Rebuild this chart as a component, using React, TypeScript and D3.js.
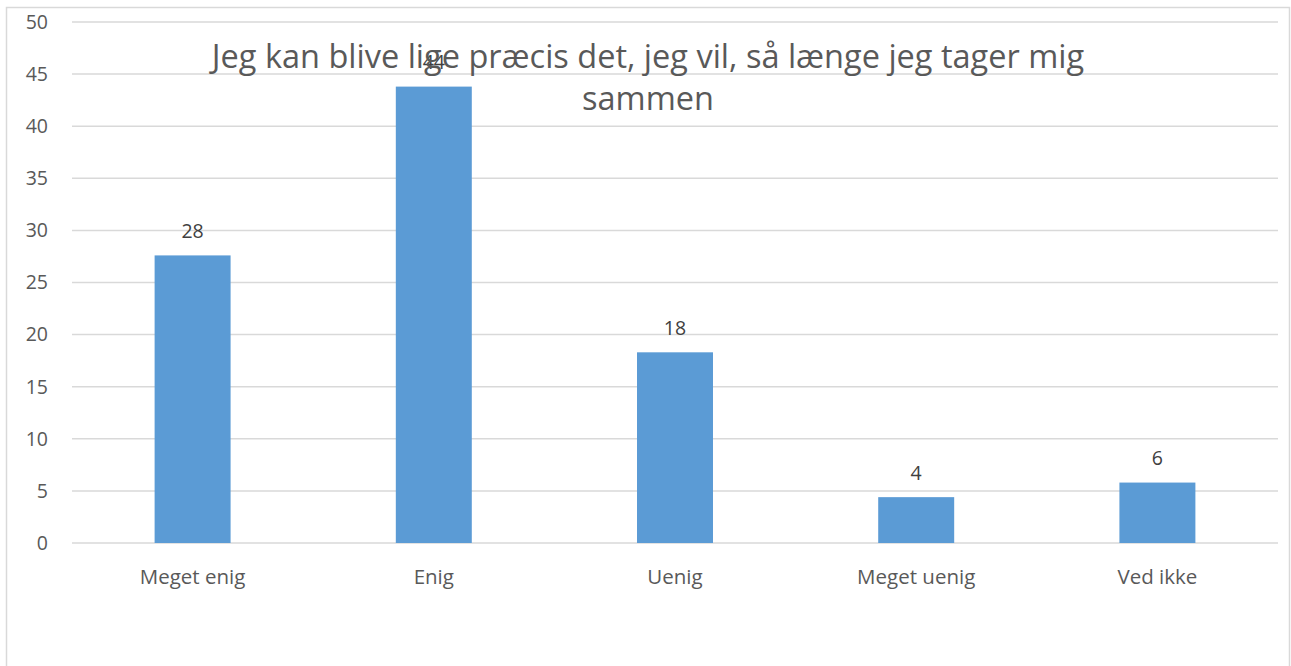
import React from "react";
import * as d3 from "d3";

const categories = ["Meget enig", "Enig", "Uenig", "Meget uenig", "Ved ikke"];
const values = [27.6, 43.8, 18.3, 4.4, 5.8];
const yTicks = [0, 5, 10, 15, 20, 25, 30, 35, 40, 45, 50];
const titleLines = ["Jeg kan blive lige præcis det, jeg vil, så længe jeg tager mig", "sammen"];

export default function App() {
  const W = 1291, H = 666;
  const left = 72, right = 1278, top = 22, bottom = 543;
  const x = d3.scaleBand<string>().domain(categories).range([left, right]).paddingInner(0.685).paddingOuter(0.3425);
  const y = d3.scaleLinear().domain([0, 50]).range([bottom, top]);
  const font = "'Open Sans', 'Liberation Sans', sans-serif";
  return (
    <svg width={W} height={H} style={{ position: "absolute", left: 0, top: 0, background: "#fff" }}>
      <rect x={6.5} y={7.5} width={1283} height={700} fill="#fff" stroke="#d9d9d9" strokeWidth={1.5} />
      {yTicks.map((t) => (
        <g key={t}>
          <line x1={left} x2={right} y1={y(t)} y2={y(t)} stroke="#d9d9d9" strokeWidth={1.5} />
          <text x={48} y={y(t)} dy="0.35em" textAnchor="end" fontFamily={font} fontSize={19.5} fill="#595959">{t}</text>
        </g>
      ))}
      {categories.map((c, i) => (
        <g key={c}>
          <rect x={x(c)} y={y(values[i])} width={x.bandwidth()} height={bottom - y(values[i])} fill="#5b9bd5" />
          <text x={x(c)! + x.bandwidth() / 2} y={y(values[i]) - 24} dy="0.35em" textAnchor="middle" fontFamily={font} fontSize={19.5} fill="#404040">{d3.format(".0f")(values[i])}</text>
          <text x={x(c)! + x.bandwidth() / 2} y={577} dy="0.35em" textAnchor="middle" fontFamily={font} fontSize={20.5} fill="#595959">{c}</text>
        </g>
      ))}
      {titleLines.map((l, i) => (
        <text key={i} x={648} y={57 + i * 42} dy="0.35em" textAnchor="middle" fontFamily={font} fontSize={32.5} fill="#595959">{l}</text>
      ))}
    </svg>
  );
}
